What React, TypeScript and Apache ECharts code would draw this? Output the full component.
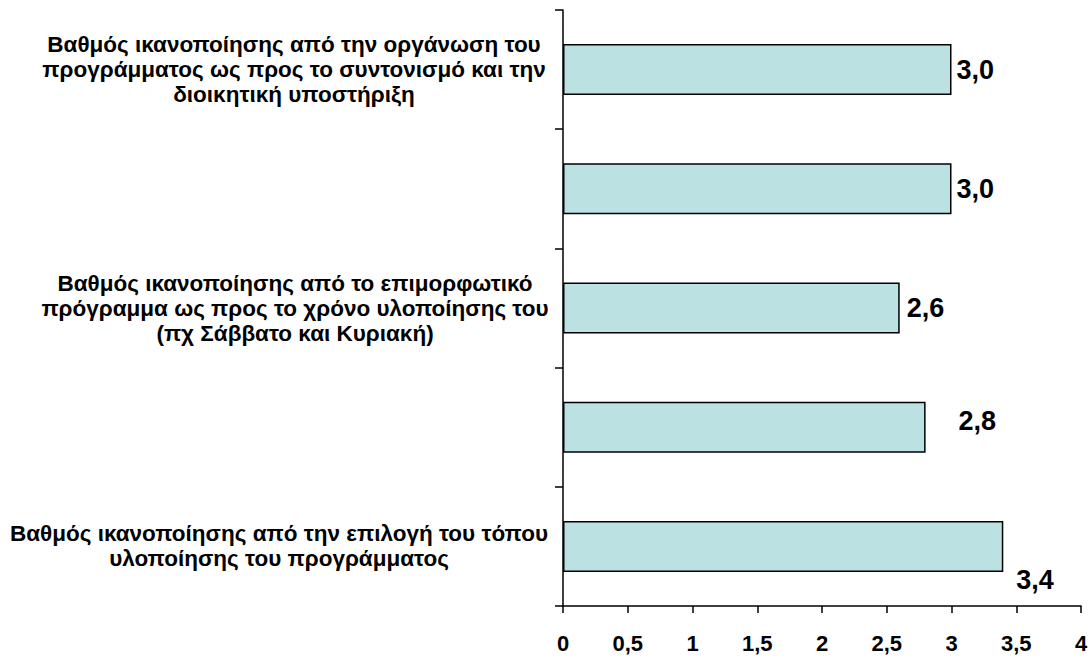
import React, { useEffect, useRef } from "react";
import * as echarts from "echarts";

const categories: string[] = [
  "Βαθμός ικανοποίησης από την οργάνωση του\nπρογράμματος ως προς το συντονισμό και την\nδιοικητική υποστήριξη",
  "",
  "Βαθμός ικανοποίησης από το επιμορφωτικό\nπρόγραμμα ως προς το χρόνο υλοποίησης του\n(πχ Σάββατο και Κυριακή)",
  " ",
  "Βαθμός ικανοποίησης από την επιλογή του τόπου\nυλοποίησης του προγράμματος",
];
const values: number[] = [3.0, 3.0, 2.6, 2.8, 3.4];
const xTicks: number[] = [0, 0.5, 1, 1.5, 2, 2.5, 3, 3.5, 4];

const labelOffsets: number[][] = [
  [0, 0],
  [0, 0],
  [2, 0],
  [28, -6],
  [8, 34],
];
const catLabelPadLeft: number[] = [30, 0, 32, 0, 0];

const FONT = "'Liberation Sans', Arial, sans-serif";

export default function App() {
  const ref = useRef<HTMLDivElement>(null);
  useEffect(() => {
    if (!ref.current) return;
    const chart = echarts.init(ref.current, undefined, { renderer: "svg" });
    chart.setOption({
      animation: false,
      backgroundColor: "#ffffff",
      grid: {
        left: 563,
        right: 9,
        top: 10,
        bottom: 52,
        containLabel: false,
        outerBoundsMode: "none",
      },
      xAxis: {
        type: "value",
        min: xTicks[0],
        max: xTicks[xTicks.length - 1],
        interval: 0.5,
        splitLine: { show: false },
        axisLine: { show: true, lineStyle: { color: "#000", width: 1.5 } },
        axisTick: { show: true, length: 7, lineStyle: { color: "#000", width: 1.5 } },
        axisLabel: {
          margin: 26,
          color: "#000",
          fontFamily: FONT,
          fontWeight: "bold",
          fontSize: 22,
          formatter: (v: number) => String(v).replace(".", ","),
        },
      },
      yAxis: {
        type: "category",
        data: categories.map((c, i) => ({
          value: c,
          textStyle: { align: "center", padding: [0, 0, 0, catLabelPadLeft[i]] },
        })),
        inverse: true,
        axisLine: { show: true, lineStyle: { color: "#000", width: 1.5 } },
        axisTick: { show: true, interval: 0, length: 8, lineStyle: { color: "#000", width: 1.5 } },
        axisLabel: {
          interval: (i: number) => i % 2 === 0,
          align: "center",
          margin: 284,
          color: "#000",
          fontFamily: FONT,
          fontWeight: "bold",
          fontSize: 22.5,
          lineHeight: 25,
        },
      },
      series: [
        {
          type: "bar",
          barWidth: 51,
          data: values.map((v, i) => ({
            value: v,
            label: { offset: labelOffsets[i] },
          })),
          itemStyle: { color: "#BCE1E3", borderColor: "#000", borderWidth: 1.5 },
          label: {
            show: true,
            position: "right",
            distance: 5,
            color: "#000",
            fontFamily: FONT,
            fontWeight: "bold",
            fontSize: 27,
            formatter: (p: any) => Number(p.value).toFixed(1).replace(".", ","),
          },
        },
      ],
    });
    return () => chart.dispose();
  }, []);
  return (
    <div
      ref={ref}
      style={{ position: "fixed", left: 0, top: 0, width: 1090, height: 658 }}
    />
  );
}
